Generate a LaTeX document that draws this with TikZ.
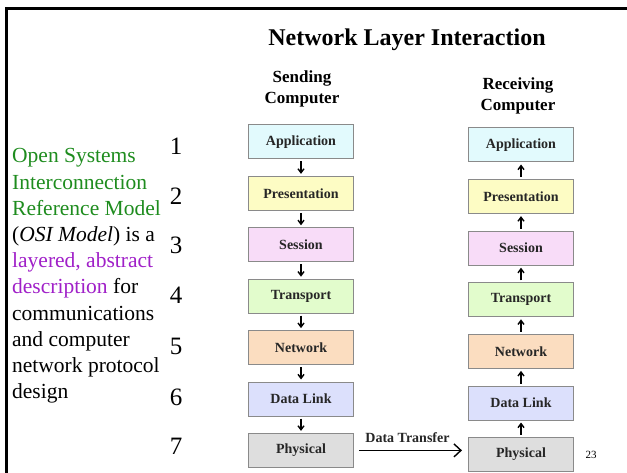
\documentclass[tikz,border=0pt]{standalone}
\usepackage{fontspec}
\setmainfont{Liberation Serif}
\usetikzlibrary{arrows.meta}
\definecolor{cApp}{HTML}{E2FAFD}
\definecolor{cPre}{HTML}{FDFCC4}
\definecolor{cSes}{HTML}{F8DCF8}
\definecolor{cTra}{HTML}{E2FCCC}
\definecolor{cNet}{HTML}{FBDDC0}
\definecolor{cDat}{HTML}{DCE0FC}
\definecolor{cPhy}{HTML}{DEDEDE}
\definecolor{cBorder}{HTML}{8A8A8A}
\definecolor{osigreen}{HTML}{1E8C1E}
\definecolor{osipurple}{HTML}{A020C8}
\tikzset{
  layerbox/.style={draw=cBorder, line width=1pt, minimum width=105pt, minimum height=34pt,
    inner sep=0pt, font=\fontsize{14}{16}\selectfont\bfseries, text=black!85},
  flow/.style={line width=1.4pt, -{Straight Barb[length=4pt,width=6pt]}, shorten <=2pt, shorten >=2pt},
  xfer/.style={line width=1.4pt, -{Straight Barb[length=7pt,width=13pt]}, shorten <=5pt, shorten >=6pt},
  bodytext/.style={anchor=base west, inner sep=0pt, font=\fontsize{21.5}{26}\selectfont},
  numtext/.style={anchor=base, inner sep=0pt, font=\fontsize{25}{28}\selectfont},
  header/.style={align=center, inner sep=0pt, font=\fontsize{17}{21}\selectfont\bfseries}
}
\begin{document}
\begin{tikzpicture}[x=1pt,y=-1pt]
\useasboundingbox (0,0) rectangle (627,473);
% frame
\draw[line width=3pt, line cap=rect] (627,8.5) -- (6.5,8.5) -- (6.5,473);
% title
\node[inner sep=0pt, font=\fontsize{24}{28}\selectfont\bfseries] (title) at (407,40) {Network Layer Interaction};
% headers
\node[header] (hs) at (302,88.5) {Sending\\Computer};
\node[header] (hr) at (518,95.5) {Receiving\\Computer};
% sending column
\node[layerbox, fill=cApp] (s1) at (301,142) {Application};
\node[layerbox, fill=cPre] (s2) at (301,193.4) {Presentation};
\node[layerbox, fill=cSes] (s3) at (301,244.8) {Session};
\node[layerbox, fill=cTra] (s4) at (301,296.2) {Transport};
\node[layerbox, fill=cNet] (s5) at (301,347.6) {Network};
\node[layerbox, fill=cDat] (s6) at (301,399) {Data Link};
\node[layerbox, fill=cPhy] (s7) at (301,450.4) {Physical};
% receiving column
\node[layerbox, fill=cApp] (r1) at (521,145) {Application};
\node[layerbox, fill=cPre] (r2) at (521,196.6) {Presentation};
\node[layerbox, fill=cSes] (r3) at (521,248.2) {Session};
\node[layerbox, fill=cTra] (r4) at (521,299.8) {Transport};
\node[layerbox, fill=cNet] (r5) at (521,351.4) {Network};
\node[layerbox, fill=cDat] (r6) at (521,403) {Data Link};
\node[layerbox, fill=cPhy] (r7) at (521,454) {Physical};
% flows
\foreach \a/\b in {1/2,2/3,3/4,4/5,5/6,6/7}{
  \draw[flow] (s\a.south) -- (s\b.north);
  \draw[flow] (r\b.north) -- (r\a.south);
}
% data transfer
\draw[xfer] (s7.east) -- (s7.east -| r7.west);
\node[inner sep=0pt, font=\fontsize{14}{16}\selectfont\bfseries, text=black!85] (dt) at (407.5,437.5) {Data Transfer};
% left text
\node[bodytext, text=osigreen] (t1) at (12,163) {Open Systems};
\node[bodytext, text=osigreen] (t2) at (12,189.2) {Interconnection};
\node[bodytext, text=osigreen] (t3) at (12,215.4) {Reference Model};
\node[bodytext] (t4) at (12,241.6) {(\textit{OSI Model}) is a};
\node[bodytext, text=osipurple] (t5) at (12,267.8) {layered, abstract};
\node[bodytext] (t6) at (12,294) {\textcolor{osipurple}{description} for};
\node[bodytext] (t7) at (12,320.2) {communications};
\node[bodytext] (t8) at (12,346.4) {and computer};
\node[bodytext] (t9) at (12,372.6) {network protocol};
\node[bodytext] (t10) at (12,398.8) {design};
% numbers
\node[numtext] (n1) at (176,155) {1};
\node[numtext] (n2) at (176,204.5) {2};
\node[numtext] (n3) at (176,254) {3};
\node[numtext] (n4) at (176,304) {4};
\node[numtext] (n5) at (176,354) {5};
\node[numtext] (n6) at (176,405.5) {6};
\node[numtext] (n7) at (176,454) {7};
% page number
\node[inner sep=0pt, font=\fontsize{11}{13}\selectfont] (pg) at (591,455) {23};
\end{tikzpicture}
\end{document}
